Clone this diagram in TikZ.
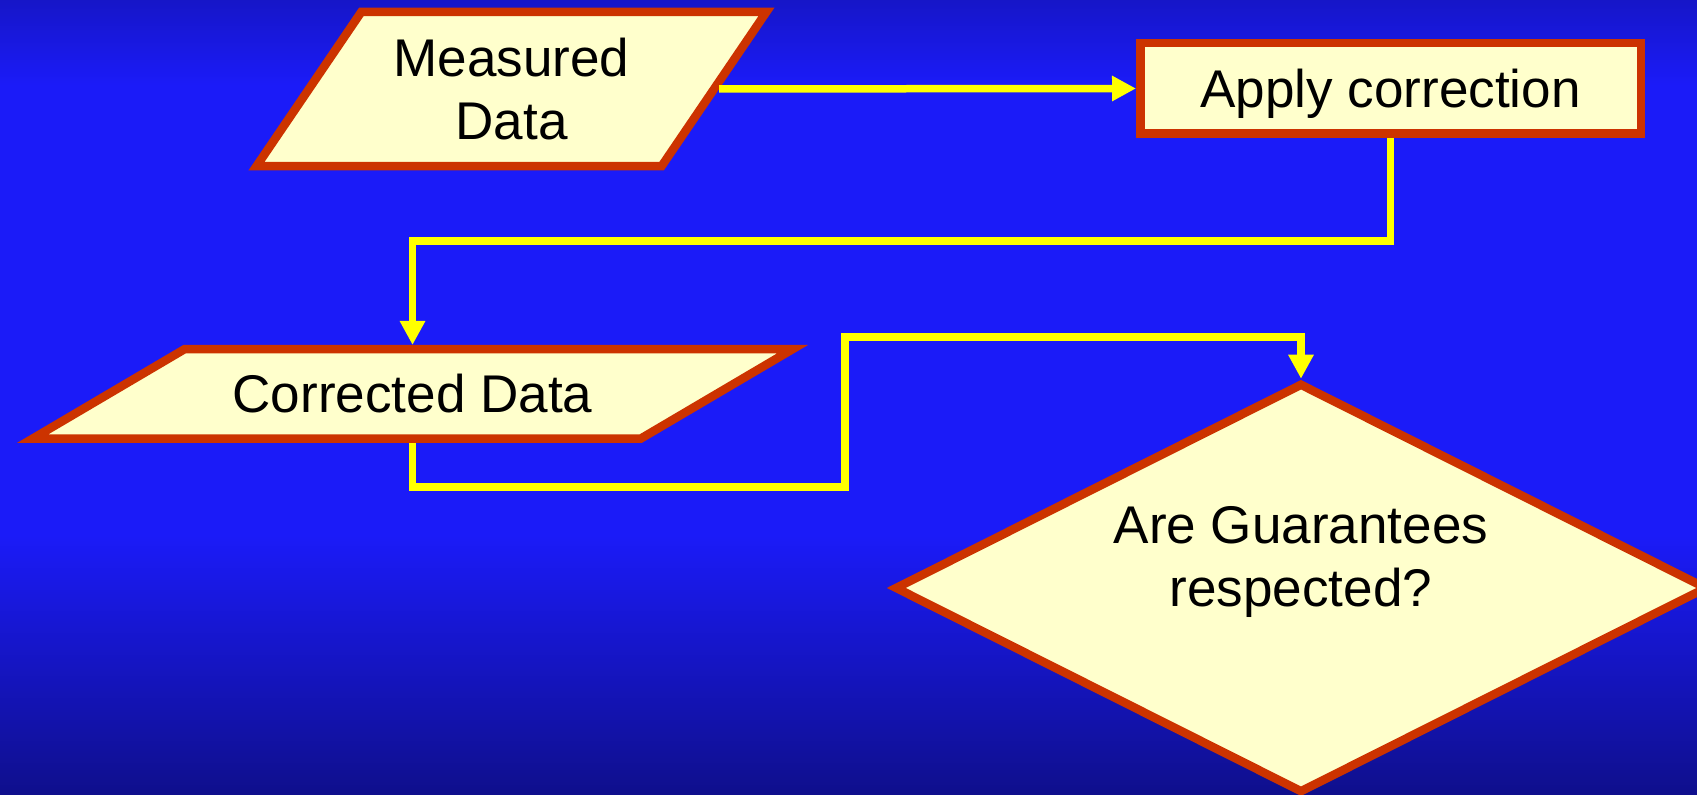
\documentclass[tikz,border=0pt]{standalone}
\usepackage{fontspec}
\setmainfont{Liberation Sans}
\usetikzlibrary{shapes.geometric,arrows.meta}
\definecolor{bgdunkel}{RGB}{15,15,140}
\definecolor{bgoben}{RGB}{22,22,200}
\definecolor{bghell}{RGB}{27,27,248}
\definecolor{kastenrand}{RGB}{204,51,0}
\definecolor{kastenfuell}{RGB}{255,255,204}
\definecolor{pfeilgelb}{RGB}{255,255,0}
\tikzset{
	kasten/.style={draw=kastenrand, fill=kastenfuell, line width=0.085cm,
		font=\fontsize{15.1}{17.9}\selectfont, align=center, inner sep=0pt},
	daten/.style={kasten, trapezium, trapezium stretches body},
	fluss/.style={draw=pfeilgelb, line width=0.075cm,
		-{Triangle[width=0.24cm, length=0.24cm]}},
}
\begin{document}
\begin{tikzpicture}
	\useasboundingbox (0,0) rectangle (16.97,7.95);
	\clip (0,0) rectangle (16.97,7.95);
	% Hintergrund
	\shade[top color=bgoben, bottom color=bghell] (0,7.95) rectangle (16.97,7.1);
	\fill[bghell] (0,7.1) rectangle (16.97,2.6);
	\shade[top color=bghell, bottom color=bgdunkel] (0,2.6) rectangle (16.97,0);
	% Kaesten
	\node[daten, trapezium left angle=55.8, trapezium right angle=124.2, inner ysep=0.265cm,
		text depth=0cm, minimum width=5.1cm] (messdaten) at (5.115, 7.06) {Measured\\Data};
	\node[kasten, text height=0.38cm, text depth=0cm,
		minimum width=5.005cm, minimum height=0.905cm] (korrektur) at (13.905, 7.065) {Apply correction};
	\node[daten, trapezium left angle=30.5, trapezium right angle=149.5, inner ysep=0.2575cm,
		text height=0.38cm, text depth=0cm, minimum width=7.6cm] (korrdaten) at (4.125, 4.01) {Corrected Data};
	\node[kasten, diamond, aspect=2, minimum width=8.13cm, minimum height=4.1cm,
		text depth=0.63cm] (garantie) at (13.01, 2.07) {Are Guarantees\\respected?};
	% Verbindungen
	\draw[fluss] (messdaten.east) -- (korrektur.west);
	\draw[fluss] (korrektur.south) -- ++(0,-1.03) -| (korrdaten.north);
	\draw[fluss] (korrdaten.south) -- ++(0,-0.44) -| ++(4.325,1.5) -| (garantie.north);
\end{tikzpicture}
\end{document}
